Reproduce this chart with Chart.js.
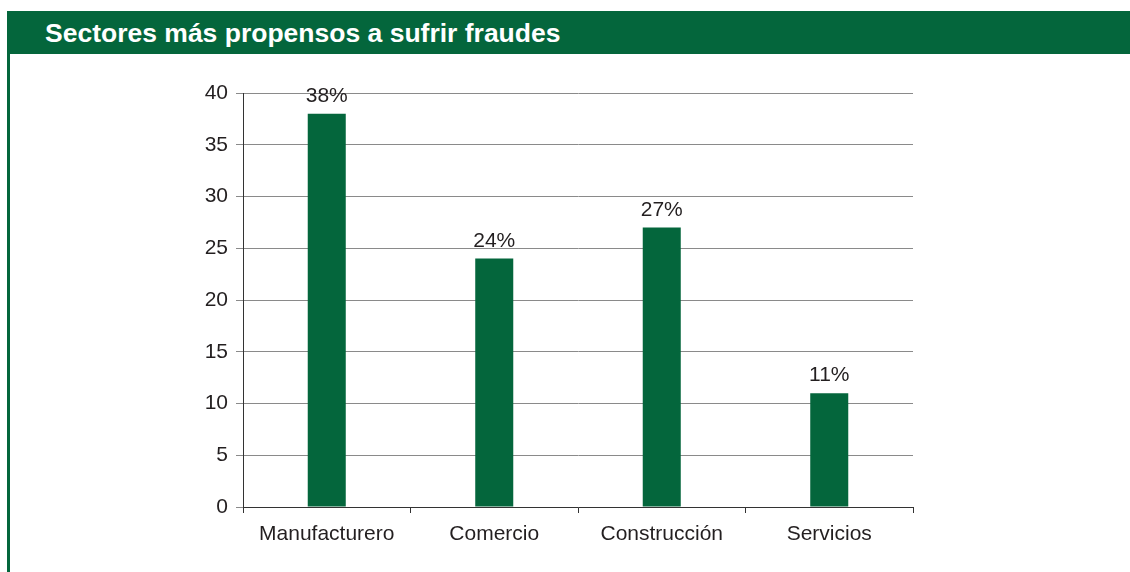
<!DOCTYPE html>
<html>
<head>
<meta charset="utf-8">
<script src="https://cdn.jsdelivr.net/npm/chart.js@4"></script>
<style>
  html, body { margin: 0; padding: 0; background: #fff; }
  body { width: 1130px; height: 572px; position: relative; overflow: hidden; font-family: "Liberation Sans", Arial, sans-serif; }
  #frame { position: absolute; left: 7px; top: 11px; width: 1123px; height: 561px; border-left: 3px solid #04663c; box-sizing: border-box; }
  #title { position: absolute; left: 7px; top: 11px; width: 1123px; height: 43px; background: #04663c; color: #fff;
           font-weight: bold; font-size: 26.5px; line-height: 44px; padding-left: 38px; box-sizing: border-box; z-index: 2; }
  #wrap { position: absolute; left: 0; top: 0; width: 1130px; height: 572px; }
</style>
</head>
<body>
<div id="frame"></div>
<div id="title">Sectores más propensos a sufrir fraudes</div>
<div id="wrap"><canvas id="chart"></canvas></div>
<script>
const sectores = ["Manufacturero", "Comercio", "Construcción", "Servicios"];
const porcentajes = [38, 24, 27, 11];
const yTicks = [0, 5, 10, 15, 20, 25, 30, 35, 40];

const green = "#04663c";
const textColor = "#231f20";
const fontFamily = "'Liberation Sans', Arial, sans-serif";

const barLabels = {
  id: "barLabels",
  afterDatasetsDraw(chart) {
    const ctx = chart.ctx;
    const meta = chart.getDatasetMeta(0);
    ctx.save();
    ctx.font = "21px " + fontFamily;
    ctx.fillStyle = textColor;
    ctx.textAlign = "center";
    ctx.textBaseline = "alphabetic";
    meta.data.forEach((bar, i) => {
      ctx.fillText(porcentajes[i] + "%", bar.x, bar.y - 12);
    });
    ctx.restore();
  }
};

new Chart(document.getElementById("chart"), {
  type: "bar",
  data: {
    labels: sectores,
    datasets: [
      {
        data: porcentajes,
        backgroundColor: green,
        categoryPercentage: 1,
        barPercentage: 0.227,
      },
    ],
  },
  options: {
    responsive: true,
    maintainAspectRatio: false,
    animation: false,
    layout: {
      padding: { left: 0, right: 217, top: 93, bottom: 0 },
    },
    plugins: {
      legend: { display: false },
      tooltip: { enabled: false },
    },
    scales: {
      x: {
        grid: {
          offset: true,
          drawOnChartArea: false,
          drawTicks: true,
          tickLength: 6,
          color: "#333",
        },
        border: { color: "#333", width: 1 },
        ticks: {
          color: textColor,
          padding: 9,
          font: { family: fontFamily, size: 21 },
        },
        afterFit(scale) { scale.height = 65; },
      },
      y: {
        min: 0,
        max: 40,
        afterBuildTicks(scale) {
          scale.ticks = yTicks.map(v => ({ value: v }));
        },
        grid: {
          color: "#8a8a8a",
          lineWidth: 1,
          tickLength: 7,
        },
        border: { color: "#333", width: 1 },
        ticks: {
          color: textColor,
          padding: 8,
          font: { family: fontFamily, size: 21 },
        },
        afterFit(scale) { scale.width = 243; },
      },
    },
  },
  plugins: [barLabels],
});
</script>
</body>
</html>
